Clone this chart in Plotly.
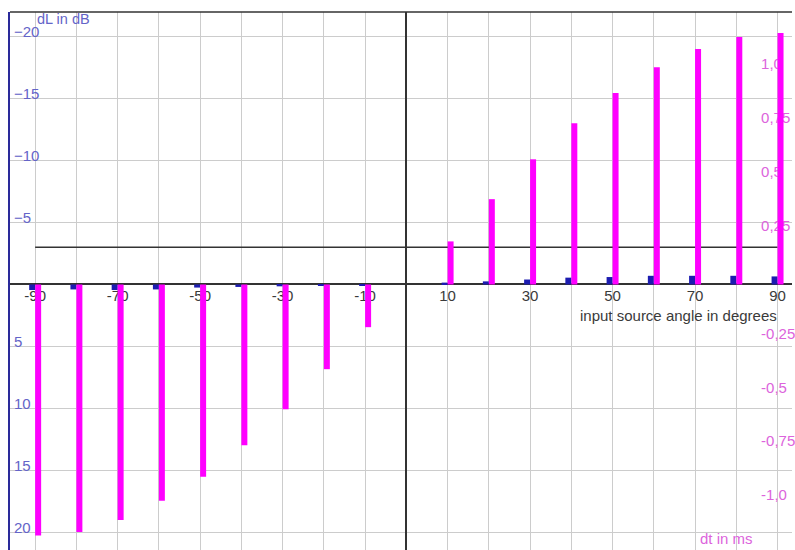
import plotly.graph_objects as go

# ---- data ----
ANGLES = [-90, -80, -70, -60, -50, -40, -30, -20, -10, 10, 20, 30, 40, 50, 60, 70, 80, 90]
DL_DB = [0.45, 0.4, 0.45, 0.4, 0.25, 0.2, 0.15, 0.1, 0.05,
         -0.15, -0.25, -0.4, -0.55, -0.6, -0.7, -0.7, -0.7, -0.65]
DT_MS = [-1.165, -1.148, -1.093, -1.004, -0.892, -0.746, -0.579, -0.393, -0.198,
         0.2, 0.396, 0.581, 0.748, 0.889, 1.008, 1.093, 1.148, 1.167]
REF_LEVEL_DB = -3
X_TICKS = list(range(-90, 91, 10))
X_TICKTEXT = [str(v) if (v // 10) % 2 != 0 else "" for v in X_TICKS]
DB_TICKS = [-20, -15, -10, -5, 5, 10, 15, 20]
MS_TICKS = [1.0, 0.75, 0.5, 0.25, -0.25, -0.5, -0.75, -1.0]
MS_TICKTEXT = ["1,0", "0,75", "0,5", "0,25", "-0,25", "-0,5", "-0,75", "-1,0"]

FONT = "Liberation Sans, Arial, sans-serif"
BLUE_TXT = "#6464c8"
PINK_TXT = "#dc64dc"
W, H = 795, 550
ML, MR, MT, MB = 10, 0, 12, 0
PW, PH = W - ML - MR, H - MT - MB
DB_RANGE = [21.43, -21.99]

fig = go.Figure()
fig.add_trace(go.Scatter(x=[X_TICKS[0], X_TICKS[-1]], y=[REF_LEVEL_DB, REF_LEVEL_DB], yaxis="y",
                         mode="lines", line=dict(color="#333333", width=1.5),
                         showlegend=False, hoverinfo="skip"))
fig.add_trace(go.Bar(x=ANGLES, y=DL_DB, yaxis="y", width=1.45, offset=-1.45,
                     marker=dict(color="#1c1cb0", line=dict(width=0)), showlegend=False))
fig.add_trace(go.Bar(x=ANGLES, y=DT_MS, yaxis="y2", width=1.45, offset=0,
                     marker=dict(color="#ff00ff", line=dict(width=0)), showlegend=False))
# invisible helper so the dB label axis (left-aligned labels) is drawn
fig.add_trace(go.Scatter(x=[X_TICKS[0]], y=[REF_LEVEL_DB], yaxis="y3", mode="markers",
                         marker=dict(opacity=0), showlegend=False, hoverinfo="skip"))

fig.update_layout(
    width=W, height=H,
    margin=dict(l=ML, r=MR, t=MT, b=MB),
    paper_bgcolor="white", plot_bgcolor="white",
    barmode="overlay",
    font=dict(family=FONT, size=15),
    xaxis=dict(
        range=[-96.1, 93.5], tickmode="array", tickvals=X_TICKS, ticktext=X_TICKTEXT,
        showgrid=True, gridcolor="#cccccc", gridwidth=1,
        zeroline=True, zerolinecolor="#333333", zerolinewidth=1.5,
        showline=False, ticks="", anchor="free", position=(H - MB - 284.5) / PH,
        tickfont=dict(color="#3a3a3a", size=15), layer="below traces",
    ),
    yaxis=dict(
        range=DB_RANGE, tickmode="array", tickvals=DB_TICKS, showticklabels=False,
        showgrid=True, gridcolor="#cccccc", gridwidth=1,
        zeroline=True, zerolinecolor="#333333", zerolinewidth=1.5,
        showline=True, linecolor="#2a2a9a", linewidth=2, ticks="",
    ),
    yaxis2=dict(
        overlaying="y", side="right", anchor="free", position=(763 - ML) / PW,
        range=[-1.232, 1.2645], tickmode="array", tickvals=MS_TICKS, ticktext=MS_TICKTEXT,
        showgrid=False, zeroline=False, showline=False, ticks="",
        ticklabelshift=-5, tickfont=dict(color=PINK_TXT, size=15), layer="below traces",
    ),
    yaxis3=dict(
        overlaying="y", side="right", anchor="free", position=(13 - ML) / PW,
        range=DB_RANGE, tickmode="array", tickvals=DB_TICKS,
        showgrid=False, zeroline=False, showline=False, ticks="",
        ticklabelshift=5, tickfont=dict(color=BLUE_TXT, size=15), layer="below traces",
    ),
    shapes=[dict(type="line", xref="paper", yref="paper", x0=0, x1=1, y0=1, y1=1,
                 line=dict(color="#333333", width=1.5))],
    annotations=[
        dict(text="dL in dB", xref="paper", yref="paper", x=(35 - ML) / PW, y=(H - 19) / PH,
             xanchor="left", yanchor="middle", showarrow=False, font=dict(color=BLUE_TXT, size=14.5)),
        dict(text="input source angle in degrees", xref="paper", yref="paper",
             x=(782 - ML) / PW, y=(H - 315) / PH, xanchor="right", yanchor="middle",
             showarrow=False, font=dict(color="#3a3a3a", size=15)),
        dict(text="dt in ms", xref="paper", yref="paper", x=(758 - ML) / PW, y=(H - 538) / PH,
             xanchor="right", yanchor="middle", showarrow=False, font=dict(color=PINK_TXT, size=15)),
    ],
)

fig.write_html("out.html")
